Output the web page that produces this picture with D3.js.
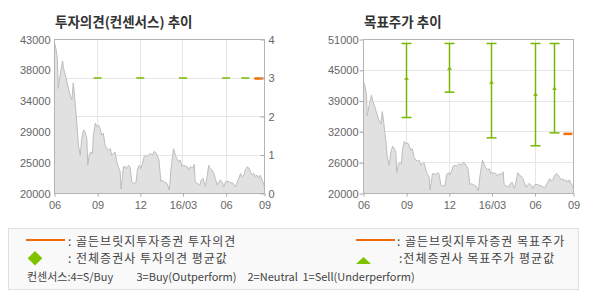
<!DOCTYPE html>
<meta charset="utf-8">
<style>
    body { margin: 0; background: #fff; }
    svg { display: block; }
    .tick text { font: 11px "Liberation Sans", Arial, sans-serif; fill: #666; }
    .tick line { stroke: #aaa; }
    .grid line { stroke: #e6e6e6; shape-rendering: crispEdges; }
    .title { font: bold 13.5px "Noto Sans CJK KR", sans-serif; fill: #333; }
    .legend text { font: 12px "Noto Sans CJK KR", sans-serif; fill: #444; }
    .legend text.kr { letter-spacing: 1px; }
    .legend text.cs { font-size: 11px; }
</style>

<svg width="590" height="300"></svg>
<script src="https://d3js.org/d3.v7.min.js"></script>

<script>
    // 종가 (두 차트 공통)
    var priceDates = ["2015-06-01","2015-06-04","2015-06-07","2015-06-09","2015-06-13","2015-06-18","2015-06-21","2015-06-25","2015-06-28",
        "2015-07-04","2015-07-08","2015-07-11","2015-07-13","2015-07-16","2015-07-19","2015-07-22","2015-07-26","2015-07-29",
        "2015-08-02","2015-08-05","2015-08-09","2015-08-11","2015-08-14","2015-08-17","2015-08-21","2015-08-23","2015-08-27","2015-08-30",
        "2015-09-03","2015-09-06","2015-09-10","2015-09-13","2015-09-17","2015-09-21","2015-09-24","2015-09-28",
        "2015-10-01","2015-10-05","2015-10-08","2015-10-12","2015-10-15","2015-10-19","2015-10-21","2015-10-24","2015-10-26","2015-10-30",
        "2015-11-01","2015-11-06","2015-11-09","2015-11-13","2015-11-16","2015-11-22","2015-11-25","2015-11-29",
        "2015-12-02","2015-12-06","2015-12-09","2015-12-13","2015-12-16","2015-12-22","2015-12-27","2015-12-31",
        "2016-01-03","2016-01-07","2016-01-10","2016-01-14","2016-01-17","2016-01-21","2016-01-27",
        "2016-02-01","2016-02-04","2016-02-08","2016-02-10","2016-02-14","2016-02-17","2016-02-21","2016-02-24","2016-02-28",
        "2016-03-02","2016-03-10","2016-03-13","2016-03-17","2016-03-22","2016-03-25","2016-03-27",
        "2016-04-01","2016-04-06","2016-04-09","2016-04-13","2016-04-18","2016-04-21","2016-04-25","2016-04-28",
        "2016-05-02","2016-05-06","2016-05-09","2016-05-13","2016-05-16","2016-05-20","2016-05-25","2016-05-27","2016-05-31",
        "2016-06-05","2016-06-10","2016-06-16","2016-06-21","2016-06-25","2016-06-28",
        "2016-07-02","2016-07-05","2016-07-09","2016-07-12","2016-07-16","2016-07-19","2016-07-23","2016-07-27","2016-07-30",
        "2016-08-03","2016-08-06","2016-08-10","2016-08-13","2016-08-17","2016-08-21","2016-08-22"];
    var prices = [42500,41700,40200,35700,37700,39800,38500,37500,36500,
        34700,34000,36500,35200,32700,30200,27200,25700,28200,
        29500,29200,28200,24200,25700,26200,26000,28700,30500,30000,
        30200,29700,28700,29000,27200,26700,26500,26700,
        25700,26000,26200,24700,24000,23300,20700,22500,24000,24000,
        23700,24200,24000,21750,21500,21650,23700,24200,
        23700,24500,25500,25700,25500,26000,25700,26300,
        26100,25500,25000,21750,22000,21750,21500,
        20500,23250,25700,26700,25700,25200,24700,25000,24000,
        24200,24000,23500,24000,23800,24350,21750,
        21500,21250,22000,22250,21000,22250,24200,23700,
        23500,23000,22250,21250,21750,22000,21500,21000,21750,
        21850,21650,21500,21000,21750,22250,
        23000,22500,22750,23500,24000,23850,23250,22750,23000,
        22500,22750,22250,22750,22000,21250,20800];

    // 투자의견
    var opinionDates = ["2015-09-01","2015-12-01","2016-03-01","2016-06-01","2016-07-12"];
    var opinionAvg = [3, 3, 3, 3, 3];
    var houseOpinionDates = ["2016-08-10"];
    var houseOpinion = [3];

    // 목표주가
    var targetDates = ["2015-09-01","2015-12-01","2016-03-01","2016-06-01","2016-07-12"];
    var targetHigh = [50200, 50200, 50200, 50200, 50200];
    var targetLow = [35300, 40400, 31200, 29600, 32200];
    var targetAvg = [43200, 45200, 42400, 40000, 41200];
    var houseTargetDates = ["2016-08-10"];
    var houseTarget = [32000];

    // 축
    var xDomain = ["2015-06-01", "2016-08-22"];
    var xTickDates = ["2015-06-01","2015-09-01","2015-12-01","2016-03-01","2016-06-01","2016-08-22"];
    var xTickLabels = ["06","09","12","16/03","06","09"];
    var leftPriceTicks = [20000, 24600, 29200, 33800, 38400, 43000];
    var leftPriceLabels = ["20000","25000","29000","34000","38000","43000"];
    var opinionTicks = [0, 1, 2, 3, 4];
    var rightPriceTicks = [20000, 26200, 32400, 38600, 44800, 51000];
    var rightPriceLabels = ["20000","26000","32000","39000","45000","51000"];

    // 범례
    var legendLeft = [": 골든브릿지투자증권 투자의견", ": 전체증권사 투자의견 평균값"];
    var legendRight = [": 골든브릿지투자증권 목표주가", ":전체증권사 목표주가 평균값"];
    var consensusParts = ["컨센서스:4=S/Buy", "3=Buy(Outperform)", "2=Neutral", "1=Sell(Underperform)"];
    var consensusX = [27, 136.5, 247.5, 302.5];

    var parse = d3.timeParse("%Y-%m-%d");
    var svg = d3.select("svg");
    var W = 210, H = 154;
    var GREEN = "#78b800", ORANGE = "#f07000";

    var series = priceDates.map(function (d, i) { return {date: parse(d), v: prices[i]}; });

    function panel(tx, ty, yDomain, title) {
        var g = svg.append("g").attr("transform", "translate(" + tx + "," + ty + ")");
        var x = d3.scaleTime().domain(xDomain.map(parse)).range([0, W]);
        var y = d3.scaleLinear().domain(yDomain).range([H, 0]);
        svg.append("text").attr("class", "title")
            .attr("x", tx + 0.5).attr("y", 26.5).text(title);
        g.append("g").attr("class", "grid")
            .selectAll("line").data(xTickDates.slice(1, -1).map(parse))
            .enter().append("line")
            .attr("x1", function (d) { return Math.round(x(d)); })
            .attr("x2", function (d) { return Math.round(x(d)); })
            .attr("y1", 0).attr("y2", H);
        return {g: g, x: x, y: y};
    }

    function finish(p) {
        var area = d3.area()
            .x(function (d) { return p.x(d.date); })
            .y0(H).y1(function (d) { return p.y(d.v); });
        p.g.append("path").datum(series).attr("d", area).attr("fill", "#e1e1e1");
        p.g.append("path").datum(series).attr("d", area.lineY1())
            .attr("fill", "none").attr("stroke", "#bdbdbd").attr("stroke-width", 1);
    }

    function frame(p) {
        p.g.append("rect").attr("width", W).attr("height", H)
            .attr("fill", "none").attr("stroke", "#b4b4b4").attr("shape-rendering", "crispEdges");
        var ax = p.g.append("g").attr("transform", "translate(0," + H + ")")
            .call(d3.axisBottom(p.x).tickValues(xTickDates.map(parse))
                .tickFormat(function (d, i) { return xTickLabels[i]; })
                .tickSize(3).tickPadding(5));
        ax.select(".domain").remove();
    }

    // ---- 투자의견 추이 ----
    var L = panel(54.5, 39.5, [20000, 43000], "투자의견(컨센서스) 추이");
    var yo = d3.scaleLinear().domain([0, 4]).range([H, 0]);
    L.g.select(".grid").selectAll(".h").data([1, 2, 3])
        .enter().append("line")
        .attr("x1", 0).attr("x2", W)
        .attr("y1", function (d) { return Math.round(yo(d)); })
        .attr("y2", function (d) { return Math.round(yo(d)); });
    finish(L);
    L.g.selectAll(".avg").data(opinionDates).enter().append("line")
        .attr("x1", function (d) { return L.x(parse(d)) - 4; })
        .attr("x2", function (d) { return L.x(parse(d)) + 4; })
        .attr("y1", function (d, i) { return yo(opinionAvg[i]); })
        .attr("y2", function (d, i) { return yo(opinionAvg[i]); })
        .attr("stroke", GREEN).attr("stroke-width", 1.5);
    L.g.selectAll(".house").data(houseOpinionDates).enter().append("line")
        .attr("x1", function (d) { return L.x(parse(d)) - 4.5; })
        .attr("x2", function (d) { return L.x(parse(d)) + 4.5; })
        .attr("y1", function (d, i) { return yo(houseOpinion[i]) + 0.5; })
        .attr("y2", function (d, i) { return yo(houseOpinion[i]) + 0.5; })
        .attr("stroke", ORANGE).attr("stroke-width", 2.5);
    frame(L);
    L.g.append("g").call(d3.axisLeft(L.y).tickValues(leftPriceTicks)
            .tickFormat(function (d, i) { return leftPriceLabels[i]; })
            .tickSize(0).tickPadding(4))
        .select(".domain").remove();
    L.g.append("g").attr("transform", "translate(" + W + ",0)")
        .call(d3.axisRight(yo).tickValues(opinionTicks).tickFormat(d3.format("d"))
            .tickSize(-4).tickPadding(4))
        .select(".domain").remove();

    // ---- 목표주가 추이 ----
    var R = panel(363.5, 39.5, [20000, 51000], "목표주가 추이");
    R.g.select(".grid").selectAll(".h").data(rightPriceTicks.slice(1, -1))
        .enter().append("line")
        .attr("x1", -4).attr("x2", W)
        .attr("y1", function (d) { return Math.round(R.y(d)); })
        .attr("y2", function (d) { return Math.round(R.y(d)); });
    finish(R);
    var bars = R.g.selectAll(".bar").data(targetDates).enter().append("g")
        .attr("transform", function (d) { return "translate(" + Math.round(R.x(parse(d))) + ",0)"; })
        .attr("stroke", GREEN).attr("stroke-width", 1.5);
    bars.append("line").attr("y1", function (d, i) { return R.y(targetHigh[i]); })
        .attr("y2", function (d, i) { return R.y(targetLow[i]); });
    bars.append("line").attr("x1", -5).attr("x2", 5)
        .attr("y1", function (d, i) { return R.y(targetHigh[i]); })
        .attr("y2", function (d, i) { return R.y(targetHigh[i]); });
    bars.append("line").attr("x1", -5).attr("x2", 5)
        .attr("y1", function (d, i) { return R.y(targetLow[i]); })
        .attr("y2", function (d, i) { return R.y(targetLow[i]); });
    bars.append("path").attr("stroke", "none").attr("fill", GREEN)
        .attr("d", function (d, i) {
            var yy = R.y(targetAvg[i]);
            return "M-2.5," + (yy + 1.5) + "L2.5," + (yy + 1.5) + "L0," + (yy - 1.5) + "Z";
        });
    R.g.selectAll(".house").data(houseTargetDates).enter().append("line")
        .attr("x1", function (d) { return R.x(parse(d)) - 4.5; })
        .attr("x2", function (d) { return R.x(parse(d)) + 4.5; })
        .attr("y1", function (d, i) { return R.y(houseTarget[i]); })
        .attr("y2", function (d, i) { return R.y(houseTarget[i]); })
        .attr("stroke", ORANGE).attr("stroke-width", 2.5);
    frame(R);
    R.g.append("g").call(d3.axisLeft(R.y).tickValues(rightPriceTicks)
            .tickFormat(function (d, i) { return rightPriceLabels[i]; })
            .tickSize(4).tickPadding(1))
        .select(".domain").remove();

    // ---- 범례 ----
    var lg = svg.append("g").attr("class", "legend");
    lg.append("rect").attr("x", 8.5).attr("y", 228.5).attr("width", 570).attr("height", 61)
        .attr("fill", "#f9f9f9").attr("stroke", "#e0e0e0");
    lg.append("line").attr("x1", 26).attr("x2", 65).attr("y1", 240).attr("y2", 240)
        .attr("stroke", "#ee6a0c").attr("stroke-width", 2);
    lg.append("path").attr("d", "M35,251L42.3,258.3L35,265.6L27.7,258.3Z").attr("fill", "#7dc300");
    lg.append("line").attr("x1", 356).attr("x2", 395).attr("y1", 240).attr("y2", 240)
        .attr("stroke", "#ee6a0c").attr("stroke-width", 2);
    lg.append("path").attr("d", "M356,264L371,264L363.5,257Z").attr("fill", "#7dc300");
    lg.selectAll(".ll").data(legendLeft).enter().append("text").attr("class", "kr")
        .attr("x", 68).attr("y", function (d, i) { return 245.5 + i * 17.5; }).text(function (d) { return d; });
    lg.selectAll(".lr").data(legendRight).enter().append("text").attr("class", "kr")
        .attr("x", function (d, i) { return i ? 399 : 397; })
        .attr("y", function (d, i) { return 245.5 + i * 17.5; }).text(function (d) { return d; });
    lg.selectAll(".cs").data(consensusParts).enter().append("text").attr("class", "cs")
        .attr("x", function (d, i) { return consensusX[i]; }).attr("y", 281)
        .text(function (d) { return d; });
</script>
